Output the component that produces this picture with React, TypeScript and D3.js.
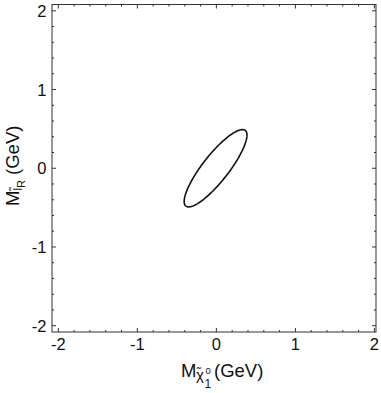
import React from 'react';
import * as d3 from 'd3';

// axis ticks
const majorTicks = [-2, -1, 0, 1, 2];
const minorTicks = d3.range(-20, 21, 2).map(v => v / 10);

// the confidence ellipse (data units)
const ellipseCenter = [-0.01, 0.0];
const ellipseSemiAxes = [0.61, 0.165];
const ellipseAngleDeg = 52;

const W = 381;
const H = 393;
const font = 'Liberation Sans, Arial, Helvetica, sans-serif';

export default function App() {
  const x = d3.scaleLinear().domain([-2.08, 2.02]).range([52, 376]);
  const y = d3.scaleLinear().domain([-2.08, 2.08]).range([332, 4.5]);

  const phi = (ellipseAngleDeg * Math.PI) / 180;
  const pts = d3.range(0, 2 * Math.PI, Math.PI / 90).map(t => {
    const u = ellipseSemiAxes[0] * Math.cos(t);
    const v = ellipseSemiAxes[1] * Math.sin(t);
    return [
      ellipseCenter[0] + u * Math.cos(phi) - v * Math.sin(phi),
      ellipseCenter[1] + u * Math.sin(phi) + v * Math.cos(phi),
    ];
  });
  const line = d3.line<number[]>()
    .x(d => x(d[0]))
    .y(d => y(d[1]))
    .curve(d3.curveLinearClosed);

  const [x0, x1] = x.range();
  const [y0, y1] = y.range(); // y0 bottom, y1 top
  const tickLen = (v: number) => (majorTicks.includes(v) ? 4 : 2);

  return (
    <svg width={W} height={H} style={{ position: 'absolute', left: 0, top: 0 }} fontFamily={font}>
      <rect x={0} y={0} width={W} height={H} fill="white" />
      <rect x={x0} y={y1} width={x1 - x0} height={y0 - y1} fill="none" stroke="#333" strokeWidth={1} />

      {/* ticks on all four sides, pointing inward */}
      {minorTicks.map(v => (
        <g key={'t' + v} stroke="#333" strokeWidth={1}>
          <line x1={x(v)} x2={x(v)} y1={y0} y2={y0 - tickLen(v)} />
          <line x1={x(v)} x2={x(v)} y1={y1} y2={y1 + tickLen(v)} />
          <line x1={x0} x2={x0 + tickLen(v)} y1={y(v)} y2={y(v)} />
          <line x1={x1} x2={x1 - tickLen(v)} y1={y(v)} y2={y(v)} />
        </g>
      ))}

      {majorTicks.map(v => (
        <text key={'xl' + v} x={x(v)} y={350} textAnchor="middle" fontSize={16.5} fill="#111">
          {v}
        </text>
      ))}
      {majorTicks.map(v => (
        <text key={'yl' + v} x={46.5} y={y(v) + 6} textAnchor="end" fontSize={16.5} fill="#111">
          {v}
        </text>
      ))}

      <path d={line(pts) || ''} fill="none" stroke="#111" strokeWidth={1.6} />

      {/* x axis label: M with chi-tilde, sup 0, sub 1 */}
      <g fill="#111">
        <text x={181} y={377} fontSize={18.5}>M</text>
        <text x={196} y={380} fontSize={15}>χ</text>
        <text x={197} y={377} fontSize={12}>˜</text>
        <text x={205.5} y={374} fontSize={9.5}>0</text>
        <text x={204.5} y={388} fontSize={12}>1</text>
        <text x={214} y={377} fontSize={18.5}>(GeV)</text>
      </g>

      {/* y axis label */}
      <text transform="translate(18.5,206) rotate(-90)" fontSize={18.5} fill="#111">
        M
        <tspan fontSize={12} dy={3}>l̃</tspan>
        <tspan fontSize={11} dy={3}>R</tspan>
        <tspan fontSize={18.5} dy={-6} dx={5}>(GeV)</tspan>
      </text>
    </svg>
  );
}
